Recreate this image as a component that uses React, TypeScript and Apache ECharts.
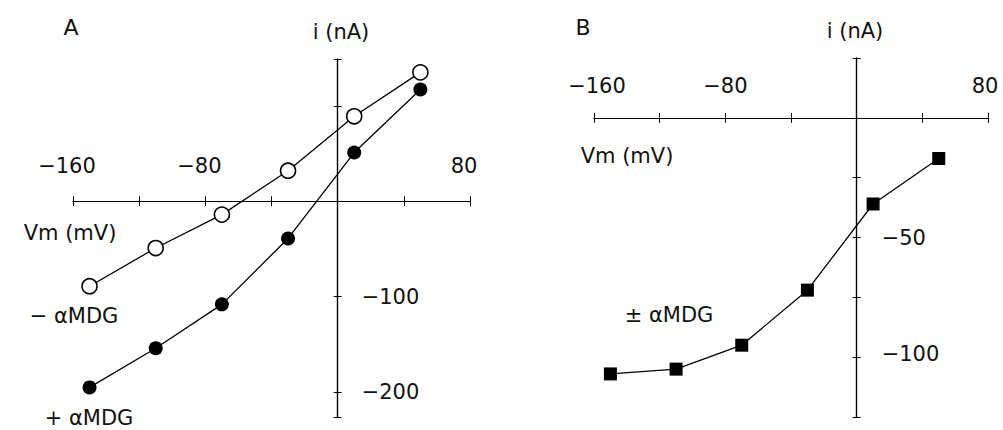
import React, { useEffect, useRef } from "react";
import * as echarts from "echarts";

// ---- data ----
const VM = [-150, -110, -70, -30, 10, 50];
const A_MINUS = [-89, -49, -14, 32, 89, 135];
const A_PLUS = [-195, -154, -108, -39, 51, 117];
const B_DIFF = [-107, -105, -95, -72, -36, -17];

const A_X_LABELS = [-160, -80, 80];
const A_Y_LABELS = [-100, -200];
const B_X_LABELS = [-160, -80, 80];
const B_Y_LABELS = [-50, -100];

const FONT = "DejaVu Sans";
const TXT = "#111";
const FS = 21;

const fmt = (v: number) => String(v).replace("-", "\u2212");

const pairs = (xs: number[], ys: number[]) => xs.map((x, i) => [x, ys[i]]);

export default function App() {
  const ref = useRef<HTMLDivElement>(null);
  useEffect(() => {
    if (!ref.current) return;
    const chart = echarts.init(ref.current, undefined, { renderer: "svg" });

    const lineStyle = { color: "#000", width: 1.2 };
    const mkX = (grid: number, pos: "top" | "bottom") => ({
      type: "value",
      gridIndex: grid,
      position: pos,
      min: -160,
      max: 80,
      interval: 40,
      splitLine: { show: false },
      axisLine: { show: true, onZero: true, lineStyle },
      axisTick: { show: true, length: 5, lineStyle: { color: "#000", width: 1 } },
      axisLabel: { show: false },
    });
    const mkY = (grid: number, pos: "left" | "right", min: number, max: number, step: number) => ({
      type: "value",
      gridIndex: grid,
      position: pos,
      min,
      max,
      minInterval: step,
      maxInterval: step,
      splitLine: { show: false },
      axisLine: { show: true, onZero: true, lineStyle },
      axisTick: { show: true, length: 4, lineStyle: { color: "#000", width: 1 } },
      axisLabel: { show: false },
    });

    const txt = (id: string, text: string, x: number, y: number, size = FS, align = "center") => ({
      type: "text",
      id,
      x,
      y,
      silent: true,
      style: {
        text,
        fill: TXT,
        font: `${size}px "${FONT}"`,
        textAlign: align,
        textVerticalAlign: "middle",
      },
    });

    chart.setOption({
      animation: false,
      backgroundColor: "#fff",
      grid: [
        { left: 73, top: 59, width: 397, height: 358, containLabel: false, outerBoundsMode: "none" },
        { left: 594, top: 58, width: 394, height: 359, containLabel: false, outerBoundsMode: "none" },
      ],
      xAxis: [mkX(0, "top"), mkX(0, "bottom"), mkX(1, "top"), mkX(1, "bottom")],
      yAxis: [
        mkY(0, "right", -226, 149, 100),
        mkY(0, "left", -226, 149, 100),
        mkY(1, "right", -125, 25, 25),
        mkY(1, "left", -125, 25, 25),
      ],
      series: [
        {
          type: "line",
          xAxisIndex: 0,
          yAxisIndex: 0,
          data: pairs(VM, A_MINUS),
          symbol: "circle",
          symbolSize: 15,
          showAllSymbol: true,
          lineStyle: { color: "#000", width: 1.3 },
          itemStyle: { color: "#fff", borderColor: "#000", borderWidth: 1.6 },
          z: 3,
        },
        {
          type: "line",
          xAxisIndex: 0,
          yAxisIndex: 0,
          data: pairs(VM, A_PLUS),
          symbol: "circle",
          symbolSize: 14,
          showAllSymbol: true,
          lineStyle: { color: "#000", width: 1.3 },
          itemStyle: { color: "#000", borderColor: "#000", borderWidth: 0 },
          z: 3,
        },
        {
          type: "line",
          xAxisIndex: 2,
          yAxisIndex: 2,
          data: pairs(VM, B_DIFF),
          symbol: "rect",
          symbolSize: 13,
          showAllSymbol: true,
          lineStyle: { color: "#000", width: 1.3 },
          itemStyle: { color: "#000", borderColor: "#000", borderWidth: 0 },
          z: 3,
        },
      ],
    });

    // tick labels placed through the axes' own scales
    const toPx = (grid: number, x: number, y: number) =>
      chart.convertToPixel({ gridIndex: grid }, [x, y]) as number[];

    const g: any[] = [
      txt("pA", "A", 71, 27, 22),
      txt("pB", "B", 583, 27, 22),
      txt("nA", "i (nA)", 341, 32),
      txt("nB", "i (nA)", 855, 31),
      txt("vA", "Vm (mV)", 70, 233),
      txt("vB", "Vm (mV)", 627, 156),
      txt("lm", "\u2212 \u03b1MDG", 74, 316),
      txt("lp", "+ \u03b1MDG", 89, 418),
      txt("lb", "\u00b1 \u03b1MDG", 669, 315),
    ];
    A_X_LABELS.forEach((v, i) => {
      const [px, py] = toPx(0, v, 0);
      g.push(txt("ax" + i, fmt(v), px - 6, py - 35));
    });
    A_Y_LABELS.forEach((v, i) => {
      const [px, py] = toPx(0, 0, v);
      g.push(txt("ay" + i, fmt(v), px + 24, py, FS, "left"));
    });
    B_X_LABELS.forEach((v, i) => {
      const [px, py] = toPx(1, v, 0);
      g.push(txt("bx" + i, fmt(v), px + (v === -160 ? 3 : v === 80 ? -3 : 0), py - 32));
    });
    B_Y_LABELS.forEach((v, i) => {
      const [px, py] = toPx(1, 0, v);
      g.push(txt("by" + i, fmt(v), px + 25, py - (v === -100 ? 3 : 0), FS, "left"));
    });
    chart.setOption({ graphic: g });

    return () => chart.dispose();
  }, []);
  return (
    <div
      ref={ref}
      style={{ position: "absolute", left: 0, top: 0, width: 1003, height: 430, background: "#fff" }}
    />
  );
}
